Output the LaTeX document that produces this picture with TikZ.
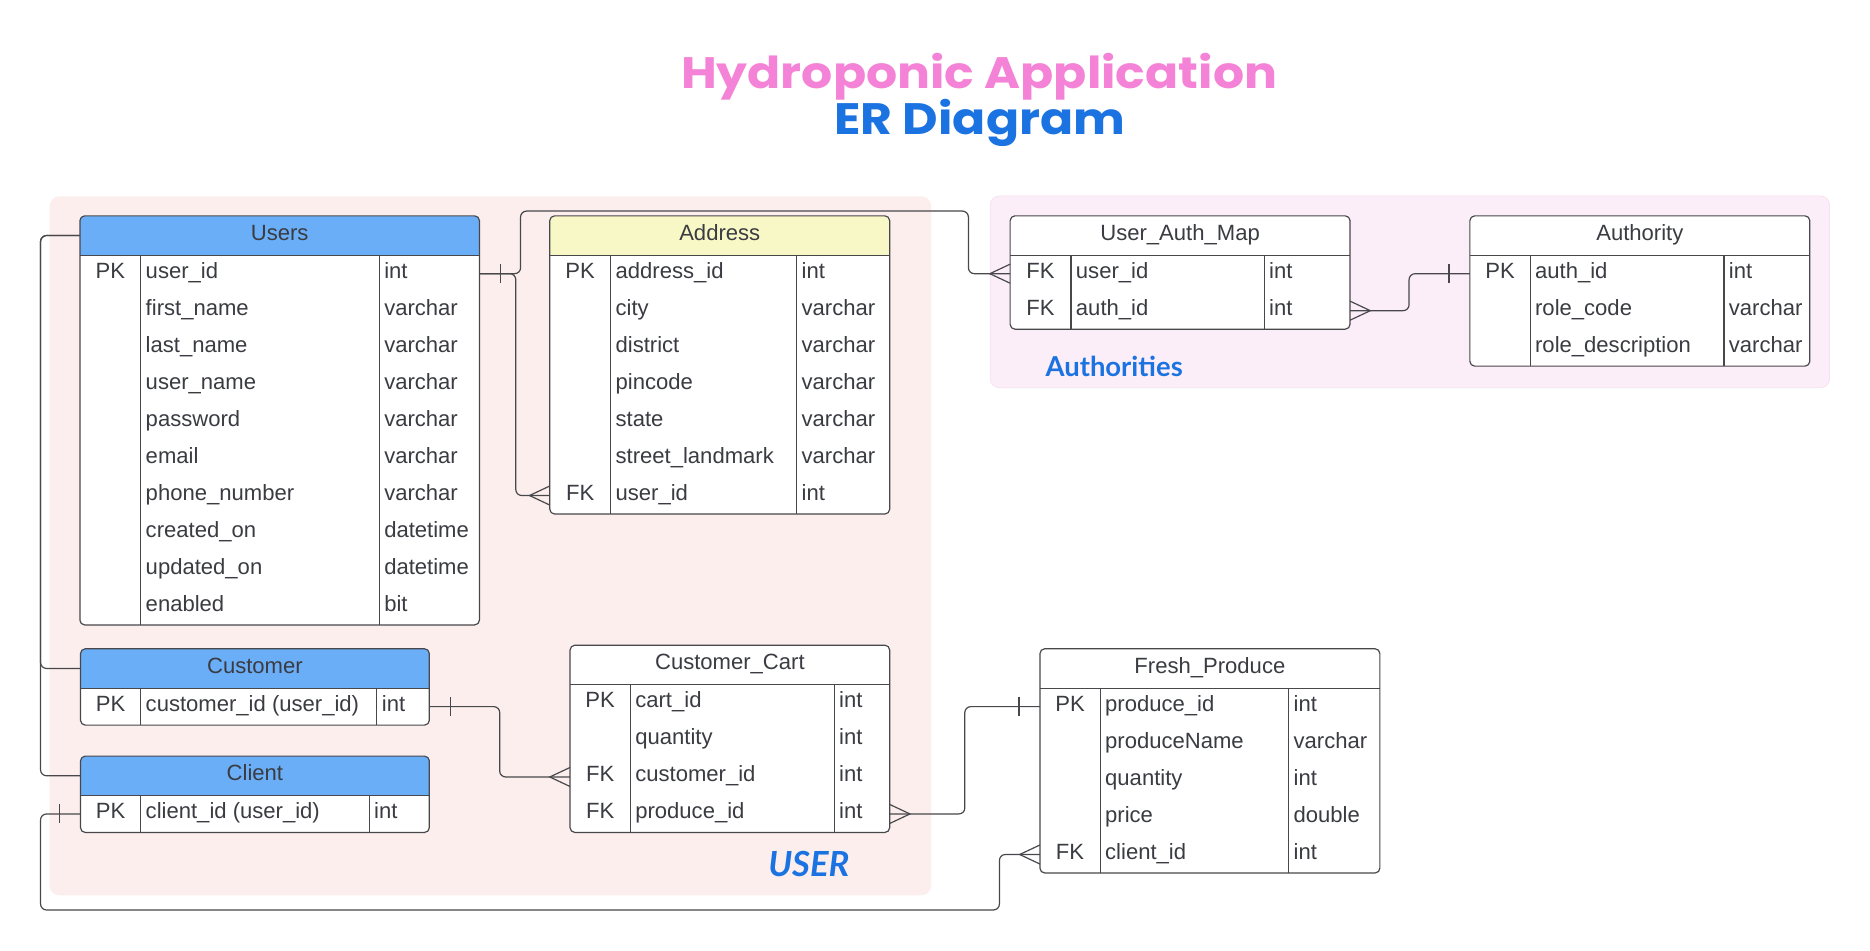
\documentclass[tikz,border=0pt]{standalone}
\usepackage{fontspec}
\setmainfont{Liberation Sans}
\newfontfamily\titlefont{Poppins}
\newfontfamily\labelfont{Lato}
\usepackage{tikz}
\usetikzlibrary{positioning}
\definecolor{titlepink}{RGB}{244,130,214}
\definecolor{titleblue}{RGB}{27,115,226}
\definecolor{userbg}{RGB}{251,238,236}
\definecolor{authbg}{RGB}{252,238,248}
\definecolor{authedge}{RGB}{246,218,236}
\definecolor{headblue}{RGB}{106,174,248}
\definecolor{headyellow}{RGB}{248,248,198}
\definecolor{inkgray}{RGB}{58,60,66}
\definecolor{linegray}{RGB}{72,72,76}
\tikzset{%
    link/.style={draw=linegray, line width=1pt, rounded corners=5pt},
    tab frame/.style={rectangle, fill=white, inner sep=0pt, outer sep=0pt},
    tab line/.style={draw=linegray, line width=1pt},
    row box/.style={rectangle, inner sep=0pt, outer sep=0pt, minimum height=31pt},
    cell text/.style={inner sep=0pt, yshift=-1.5pt, text=inkgray, font=\fontsize{18.5}{22}\selectfont},
    many/.pic={\draw[link, rounded corners=0pt] (0,-8) -- (-17,0) -- (0,8);},
    one/.pic={\draw[link, rounded corners=0pt] (-17.5,-8) -- (-17.5,8);}
}
% #1 name, #2 x, #3 y, #4 width, #5 key col, #6 type col, #7 head fill, #8 title, #9 rows
\newcommand{\ertable}[9]{%
  \foreach \x [count=\n] in {#9} {\xdef\errows{\n}}
  \node[tab frame, minimum width=#4, minimum height={33+31*\errows}, anchor=north west] (#1) at (#2,#3) {};
  \node[row box, minimum width=#4, minimum height=33pt, anchor=north] (#1-head) at (#1.north) {};
  \begin{scope}
    \clip[rounded corners=4pt] (#1.north west) rectangle (#1.south east);
    \fill[#7] (#1-head.north west) rectangle (#1-head.south east);
  \end{scope}
  \node[cell text, anchor=mid] at (#1-head.center) {#8};
  \draw[tab line] (#1-head.south west) -- (#1-head.south east);
  \draw[tab line] ([xshift=#5pt]#1-head.south west) -- ([xshift=#5pt]#1.south west);
  \draw[tab line] ([xshift=#6pt]#1-head.south west) -- ([xshift=#6pt]#1.south west);
  \foreach \pk/\fld/\typ [count=\i] in {#9} {
    \node[row box, minimum width=#4, anchor=north] (#1-\i) at ([yshift={-31pt*(\i-1)}]#1-head.south) {};
    \node[cell text, anchor=mid] at ([xshift=#5pt/2]#1-\i.west) {\pk};
    \node[cell text, anchor=mid west] at ([xshift=#5pt+4pt]#1-\i.west) {\fld};
    \node[cell text, anchor=mid west] at ([xshift=#6pt+4pt]#1-\i.west) {\typ};
  }
  \draw[tab line, rounded corners=4pt] (#1.north west) rectangle (#1.south east);
}

\begin{document}
\begin{tikzpicture}[x=1pt,y=-1pt,
  head text/.style={font=\titlefont\bfseries\fontsize{41}{48}\selectfont, inner sep=0pt, anchor=base},
  group box/.style={rectangle, rounded corners=8pt, inner sep=0pt, anchor=north west},
  group label/.style={text=titleblue, inner sep=0pt, anchor=base west}]

  \useasboundingbox[fill=white] (0,0) rectangle (1568,796.6);

  % title
  \node[head text, text=titlepink, yscale=0.9] (title) at (821,74) {Hydroponic Application};
  \node[head text, text=titleblue, yscale=0.9] (subtitle) at (821.5,113) {ER Diagram};

  % groups
  \node[group box, fill=userbg, minimum width=739, minimum height=586] (user group) at (41.5,164.5) {};
  \node[group box, fill=authbg, draw=authedge, minimum width=704, minimum height=161] (auth group) at (830,164) {};
  \node[group label, font=\labelfont\bfseries\itshape\fontsize{29}{34}\selectfont] (user label) at (644,735) {USER};
  \node[group label, font=\labelfont\bfseries\fontsize{23}{28}\selectfont] (auth label) at (876.5,315.5) {Authorities};

  % tables
  \ertable{users}{67}{181}{335}{51}{251}{headblue}{Users}{PK/user\_id/int, /first\_name/varchar, /last\_name/varchar, /user\_name/varchar, /password/varchar, /email/varchar, /phone\_number/varchar, /created\_on/datetime, /updated\_on/datetime, /enabled/bit}
  \ertable{address}{461}{181}{285}{51}{207}{headyellow}{Address}{PK/address\_id/int, /city/varchar, /district/varchar, /pincode/varchar, /state/varchar, /street\_landmark/varchar, FK/user\_id/int}
  \ertable{uam}{847}{181}{285}{51}{213}{white}{User\_Auth\_Map}{FK/user\_id/int, FK/auth\_id/int}
  \ertable{authority}{1232.5}{181}{285}{50.5}{213}{white}{Authority}{PK/auth\_id/int, /role\_code/varchar, /role\_description/varchar}
  \ertable{customer}{67.5}{544}{292.5}{50.5}{248.5}{headblue}{Customer}{PK/customer\_id (user\_id)/int}
  \ertable{client}{67.5}{634}{292.5}{50.5}{242}{headblue}{Client}{PK/client\_id (user\_id)/int}
  \ertable{cart}{478}{541}{268}{50.5}{221.5}{white}{Customer\_Cart}{PK/cart\_id/int, /quantity/int, FK/customer\_id/int, FK/produce\_id/int}
  \ertable{produce}{872}{544}{285}{50.5}{208.5}{white}{Fresh\_Produce}{PK/produce\_id/int, /produceName/varchar, /quantity/int, /price/double, FK/client\_id/int}

  % relations
  \draw[link] (users-1.east) -- ++(30.5,0) |- (address-7.west);
  \draw[link] (users-1.east) -| (436.5,177) -| ([xshift=-35pt]uam-1.west) -- (uam-1.west);
  \draw[link] (users-head.west) -- ++(-33,0) |- (customer-head.west);
  \draw[link] (users-head.west) -- ++(-33,0) |- (client-head.west);
  \draw[link] (customer-1.east) -- ++(59,0) |- (cart-3.west);
  \draw[link] (cart-4.east) -- ++(63,0) |- (produce-1.west);
  \draw[link] (client-1.west) -| (34,763) -| ([xshift=-34pt]produce-5.west) -- (produce-5.west);
  \draw[link] (uam-2.east) -- ++(49.5,0) |- (authority-1.west);

  % ends
  \pic[rotate=180] at (users-1.east) {one};
  \pic at (address-7.west) {many};
  \pic at (uam-1.west) {many};
  \pic[rotate=180] at (customer-1.east) {one};
  \pic at (cart-3.west) {many};
  \pic[rotate=180] at (cart-4.east) {many};
  \pic at (produce-1.west) {one};
  \pic at (client-1.west) {one};
  \pic at (produce-5.west) {many};
  \pic[rotate=180] at (uam-2.east) {many};
  \pic at (authority-1.west) {one};
\end{tikzpicture}
\end{document}
